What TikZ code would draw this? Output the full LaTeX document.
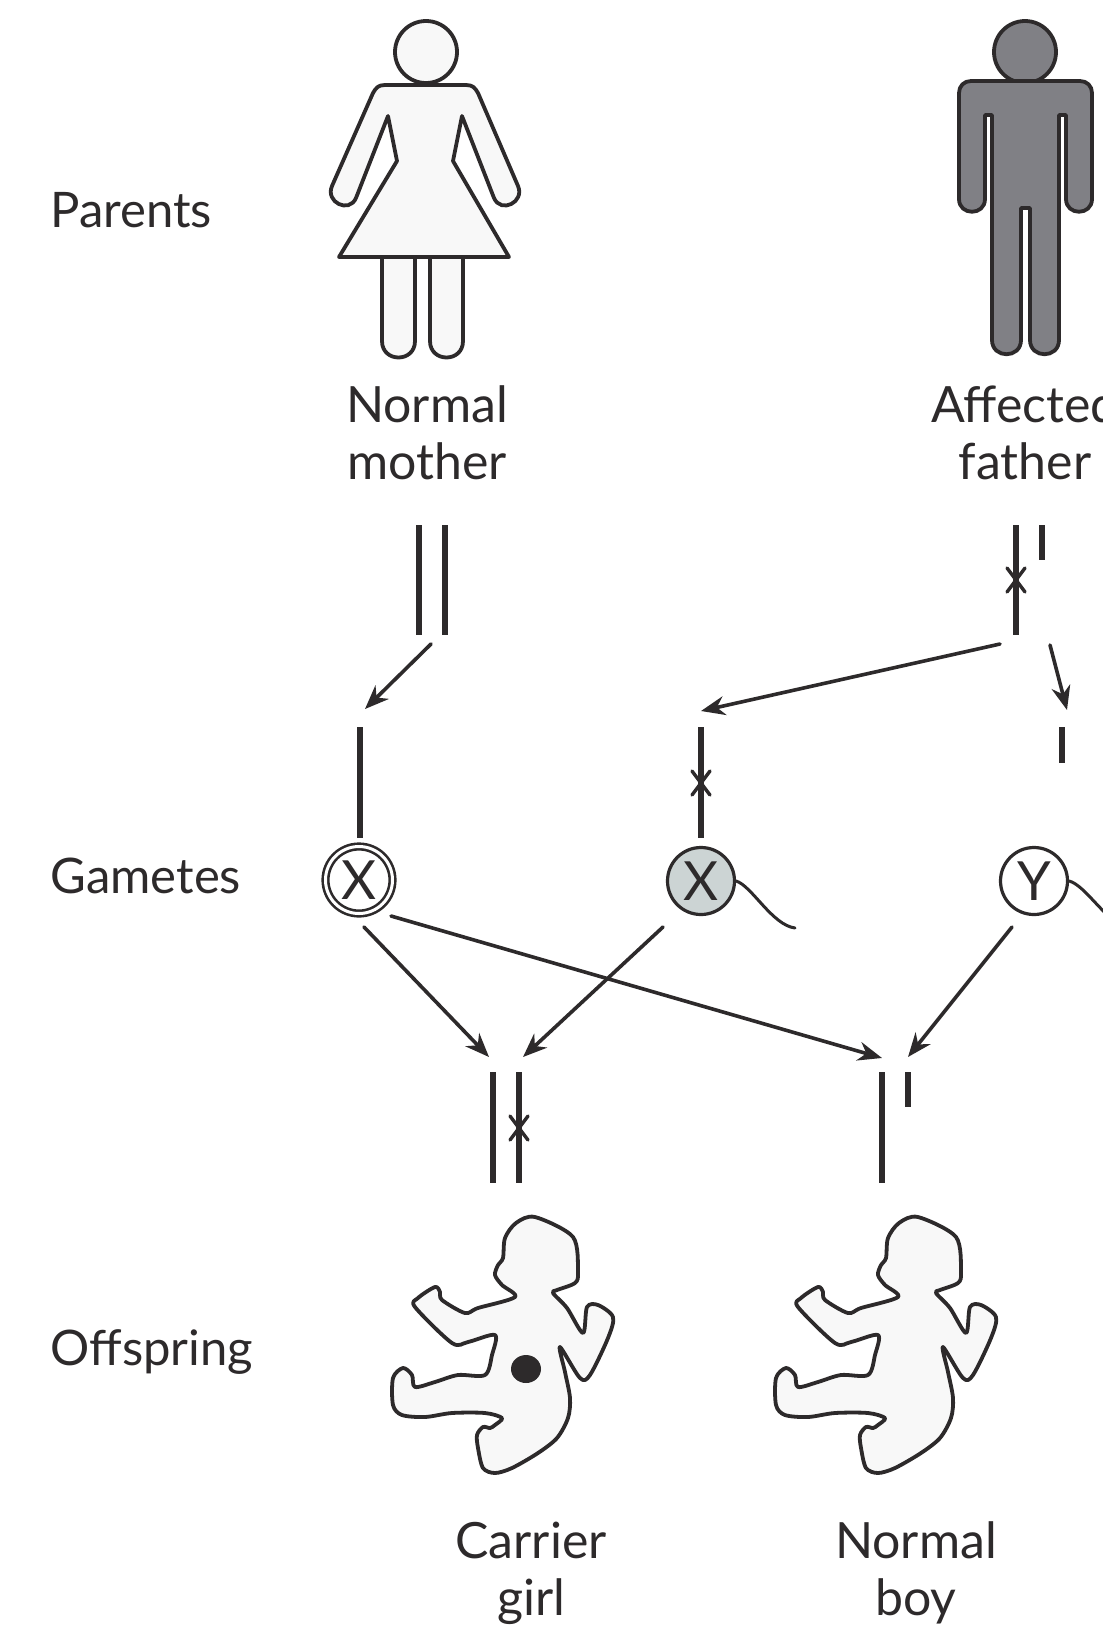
\documentclass[tikz,border=0pt]{standalone}
\usepackage{fontspec}
\setmainfont{Lato}
\usetikzlibrary{arrows.meta}
\definecolor{genInk}{HTML}{2D2A2B}
\definecolor{genPaper}{HTML}{F8F8F8}
\definecolor{genFather}{HTML}{808085}
\definecolor{genSperm}{HTML}{CCD4D4}

\begin{document}
\begin{tikzpicture}[x=1pt,y=-1pt,>=Stealth,line cap=round,line join=round]
\useasboundingbox[fill=white] (0,0) rectangle (1103,1631);
\clip (0,0) rectangle (1103,1631);
\tikzset{outline/.style={draw=genInk,line width=3.8pt},chrom/.style={draw=genInk,line width=6pt,line cap=butt},crossline/.style={draw=genInk,line width=3.4pt},arrowline/.style={draw=genInk,line width=3.6pt,-{Stealth[length=24pt,width=19pt]}},tail/.style={draw=genInk,line width=3pt},stagelabel/.style={text=genInk,font=\fontsize{49}{57}\selectfont,anchor=base west},figlabel/.style={text=genInk,font=\fontsize{50}{57}\selectfont,align=center},gamete/.style={circle,draw=genInk,line width=3.2pt,minimum size=67pt,inner sep=0pt,text=genInk,font=\fontsize{54}{54}\selectfont},chromcross/.pic={\path[crossline] (-9,-12) -- (9,12) (9,-12) -- (-9,12);},babyfig/.pic={\path[outline,fill=genPaper] plot[smooth cycle,tension=0.5] coordinates {(150,12) (188,32) (193,67) (190,78) (172,85) (168,88) (182,103) (198,128) (202,102) (213,100) (228,112) (223,133) (205,170) (195,173) (175,142) (180,167) (185,193) (183,213) (172,233) (153,248) (127,263) (110,268) (98,263) (93,243) (92,230) (98,222) (105,223) (110,220) (117,213) (100,208) (67,208) (40,212) (17,210) (8,200) (8,173) (18,163) (27,170) (30,182) (50,177) (73,170) (100,170) (107,150) (110,130) (83,137) (67,138) (30,102) (33,93) (50,82) (55,87) (57,95) (80,108) (93,103) (130,92) (117,80) (110,70) (113,60) (118,53) (120,33) (131,18)};}}
% row titles
\node[stagelabel] (parents) at (47,227) {Parents};
\node[stagelabel] (gametes) at (47,893) {Gametes};
\node[stagelabel] (offspring) at (47,1365) {Offspring};
% mother
\path[outline,fill=genPaper] (426,52) circle[radius=31pt];
\path[outline,fill=genPaper] (382,256) -- (382,341) .. controls (382,363) and (415,363) .. (415,341) -- (415,256);
\path[outline,fill=genPaper] (430,256) -- (430,341) .. controls (430,363) and (463,363) .. (463,341) -- (463,256);
\path[outline,fill=genPaper] (426,85) -- (385,85) .. controls (378,85) and (376,88) .. (373,93) -- (332,186) .. controls (325,202) and (349,214) .. (356,198) -- (388,116) -- (397,161) -- (339,257) -- (509,257) -- (453,161) -- (462,116) -- (494,198) .. controls (501,214) and (525,202) .. (518,186) -- (478,93) .. controls (475,88) and (473,85) .. (466,85) -- cycle;
\node[figlabel] (mother) at (427,433) {Normal\\mother};
% father
\path[outline,fill=genFather] (1025,52) circle[radius=31pt];
\path[outline,fill=genFather] (1025,81) -- (1080,81) .. controls (1087,81) and (1092,86) .. (1092,93) -- (1092,199) .. controls (1092,216) and (1066,216) .. (1066,199) -- (1066,115) -- (1059,115) -- (1059,340) .. controls (1059,359) and (1030,359) .. (1030,340) -- (1030,208) -- (1021,208) -- (1021,340) .. controls (1021,359) and (992,359) .. (992,340) -- (992,115) -- (985,115) -- (985,199) .. controls (985,216) and (959,216) .. (959,199) -- (959,93) .. controls (959,86) and (964,81) .. (971,81) -- cycle;
\node[figlabel] (father) at (1025,433) {Affected\\father};
% parent chromosomes
\path[chrom] (419,525) -- (419,635) (445,525) -- (445,635);
\path[chrom] (1016,525) -- (1016,635) (1042,525) -- (1042,560);
\pic at (1016,580) {chromcross};
\coordinate (motherpair) at (431,644);
\coordinate (fatherpairX) at (1000,644);
\coordinate (fatherpairY) at (1050,645);
\coordinate (eggin) at (365,709);
\coordinate (spermXin) at (701,711);
\coordinate (spermYin) at (1067,710);
\draw[arrowline] (motherpair) -- (eggin);
\draw[arrowline] (fatherpairX) -- (spermXin);
\draw[arrowline] (fatherpairY) -- (spermYin);
% gametes
\path[chrom] (360,727) -- (360,838) (701,727) -- (701,838) (1062,727) -- (1062,763);
\pic at (701,783) {chromcross};
\node[gamete,fill=white,double=white,double distance=3pt,line width=2.6pt] (egg) at (359,880) {X};
\node[gamete,fill=genSperm] (spermX) at (701,881) {X};
\node[gamete,fill=white] (spermY) at (1034,881) {Y};
\draw[tail] (spermX.east) .. controls (752,886) and (772,925) .. (795,928);
\draw[tail] (spermY.east) .. controls (1085,885) and (1105,920) .. (1126,928);
\coordinate (eggout1) at (364,927);
\coordinate (eggout2) at (391,916);
\coordinate (spermXout) at (663,927);
\coordinate (spermYout) at (1012,927);
\coordinate (girlX1) at (489,1057);
\coordinate (girlX2) at (523,1057);
\coordinate (boyX) at (882,1058);
\coordinate (boyY) at (908,1057);
\draw[arrowline] (eggout1) -- (girlX1);
\draw[arrowline] (eggout2) -- (boyX);
\draw[arrowline] (spermXout) -- (girlX2);
\draw[arrowline] (spermYout) -- (boyY);
% offspring chromosomes
\path[chrom] (493,1072) -- (493,1183) (519,1072) -- (519,1183);
\pic at (519,1128) {chromcross};
\path[chrom] (882,1072) -- (882,1183) (908,1072) -- (908,1107);
% babies
\pic at (385,1205) {babyfig};
\fill[genInk] (526,1369) ellipse[x radius=15pt,y radius=14pt];
\pic at (768,1205) {babyfig};
\node[figlabel] (girl) at (531,1573) {Carrier\\girl};
\node[figlabel] (boy) at (916,1573) {Normal\\boy};
\end{tikzpicture}
\end{document}
